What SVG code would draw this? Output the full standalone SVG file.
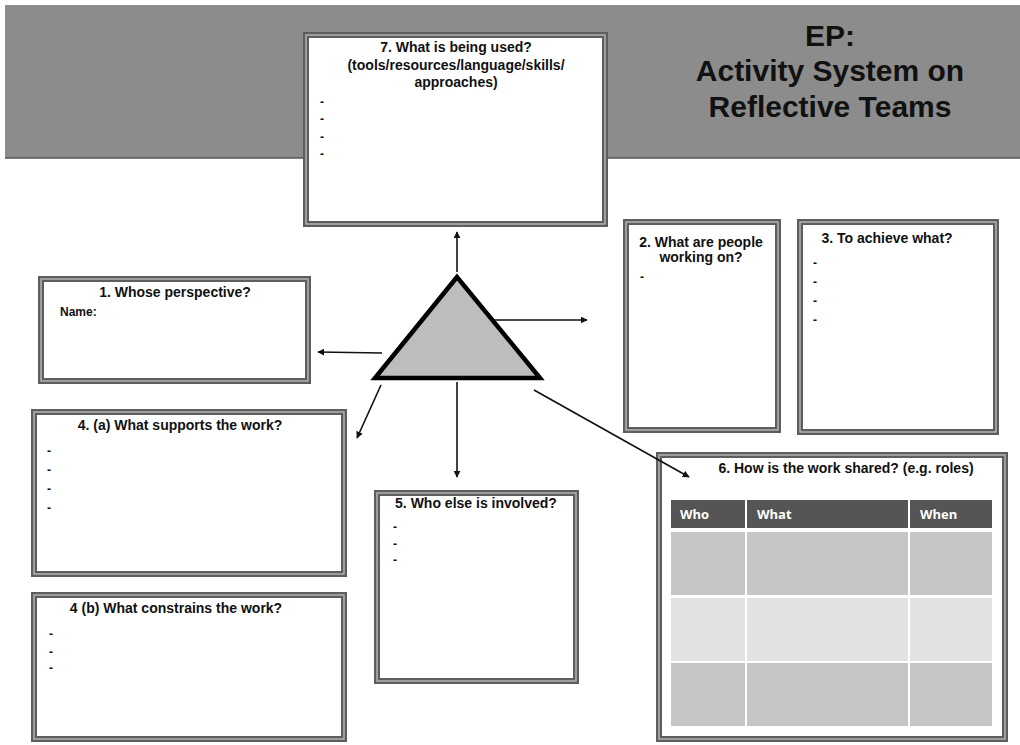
<svg xmlns="http://www.w3.org/2000/svg" width="1020" height="745" viewBox="0 0 1020 745">
  <style>
    .frame { fill: #ffffff; stroke: #5e5e5e; stroke-width: 6; }
    .frame-in { fill: none; stroke: #c8c8c8; stroke-width: 1.2; }
    .ttl { font-family: "Liberation Sans", Arial, sans-serif; font-weight: bold; font-size: 14px; fill: #111; text-anchor: middle; }
    .txt { font-family: "Liberation Sans", Arial, sans-serif; font-weight: bold; font-size: 12px; fill: #111; }
    .big { font-family: "Liberation Sans", Arial, sans-serif; font-weight: bold; font-size: 30px; fill: #111; text-anchor: middle; }
    .th { font-family: "Open Sans", "Liberation Sans", sans-serif; font-weight: bold; font-size: 13px; fill: #ffffff; }
    .conn { stroke: #111; stroke-width: 1.6; fill: none; marker-end: url(#arrow); }
  </style>
  <defs>
    <marker id="arrow" viewBox="0 0 10 10" refX="9" refY="5" markerWidth="7" markerHeight="7" orient="auto" markerUnits="userSpaceOnUse">
      <path d="M0,0 L10,5 L0,10 z" fill="#111"/>
    </marker>
  </defs>

  <rect width="1020" height="745" fill="#ffffff"/>

  <!-- header band -->
  <g id="header">
    <rect x="5" y="5" width="1015" height="153" fill="#8c8c8c"/>
    <line x1="5" y1="158" x2="1020" y2="158" stroke="#555" stroke-width="1.5"/>
    <text class="big" x="830" y="46">EP:</text>
    <text class="big" x="830" y="81">Activity System on</text>
    <text class="big" x="830" y="117">Reflective Teams</text>
  </g>

  <g id="triangle">
    <polygon points="457,277 375,378 540,378" fill="#bdbdbd" stroke="#000" stroke-width="4.5" stroke-linejoin="miter"/>
  </g>

  <g id="node7">
    <rect class="frame" x="306" y="35" width="299" height="189"/>
    <rect class="frame-in" x="306" y="35" width="299" height="189"/>
    <text class="ttl" x="456" y="52" font-size="15">7. What is being used?</text>
    <text class="ttl" x="456" y="70" font-size="15">(tools/resources/language/skills/</text>
    <text class="ttl" x="456" y="87" font-size="15">approaches)</text>
    <text class="txt" x="320" y="106">-</text>
    <text class="txt" x="320" y="123">-</text>
    <text class="txt" x="320" y="141">-</text>
    <text class="txt" x="320" y="158">-</text>
  </g>

  <g id="node1">
    <rect class="frame" x="41" y="279" width="267" height="102"/>
    <rect class="frame-in" x="41" y="279" width="267" height="102"/>
    <text class="ttl" x="175" y="297">1. Whose perspective?</text>
    <text class="txt" x="60" y="316" font-size="13">Name:</text>
  </g>

  <g id="node2">
    <rect class="frame" x="626" y="222" width="152" height="208"/>
    <rect class="frame-in" x="626" y="222" width="152" height="208"/>
    <text class="ttl" x="701" y="247">2. What are people</text>
    <text class="ttl" x="701" y="262">working on?</text>
    <text class="txt" x="640" y="281">-</text>
  </g>

  <g id="node3">
    <rect class="frame" x="800" y="222" width="196" height="210"/>
    <rect class="frame-in" x="800" y="222" width="196" height="210"/>
    <text class="ttl" x="887" y="243">3. To achieve what?</text>
    <text class="txt" x="813" y="267">-</text>
    <text class="txt" x="813" y="286">-</text>
    <text class="txt" x="813" y="305">-</text>
    <text class="txt" x="813" y="324">-</text>
  </g>

  <g id="node4a">
    <rect class="frame" x="34" y="412" width="310" height="162"/>
    <rect class="frame-in" x="34" y="412" width="310" height="162"/>
    <text class="ttl" x="180" y="430">4. (a) What supports the work?</text>
    <text class="txt" x="47" y="455">-</text>
    <text class="txt" x="47" y="474">-</text>
    <text class="txt" x="47" y="493">-</text>
    <text class="txt" x="47" y="512">-</text>
  </g>

  <g id="node4b">
    <rect class="frame" x="34" y="595" width="310" height="144"/>
    <rect class="frame-in" x="34" y="595" width="310" height="144"/>
    <text class="ttl" x="176" y="613">4 (b) What constrains the work?</text>
    <text class="txt" x="49" y="638">-</text>
    <text class="txt" x="49" y="656">-</text>
    <text class="txt" x="49" y="672">-</text>
  </g>

  <g id="node5">
    <rect class="frame" x="377" y="493" width="199" height="188"/>
    <rect class="frame-in" x="377" y="493" width="199" height="188"/>
    <text class="ttl" x="476" y="508">5. Who else is involved?</text>
    <text class="txt" x="393" y="531">-</text>
    <text class="txt" x="393" y="548">-</text>
    <text class="txt" x="393" y="564">-</text>
  </g>

  <g id="node6">
    <rect class="frame" x="659" y="455" width="346" height="284"/>
    <rect class="frame-in" x="659" y="455" width="346" height="284"/>
    <text class="ttl" x="846" y="473">6. How is the work shared? (e.g. roles)</text>
    <!-- roles table -->
    <g id="roles-table">
      <rect x="671" y="500" width="74" height="28" fill="#555"/>
      <rect x="747" y="500" width="161" height="28" fill="#555"/>
      <rect x="910" y="500" width="82" height="28" fill="#555"/>
      <text class="th" x="680" y="519">Who</text>
      <text class="th" x="757" y="519">What</text>
      <text class="th" x="920" y="519">When</text>

      <rect x="671" y="532" width="74" height="63" fill="#c6c6c6"/>
      <rect x="747" y="532" width="161" height="63" fill="#c6c6c6"/>
      <rect x="910" y="532" width="82" height="63" fill="#c6c6c6"/>

      <rect x="671" y="598" width="74" height="63" fill="#e2e2e2"/>
      <rect x="747" y="598" width="161" height="63" fill="#e2e2e2"/>
      <rect x="910" y="598" width="82" height="63" fill="#e2e2e2"/>

      <rect x="671" y="663" width="74" height="63" fill="#c6c6c6"/>
      <rect x="747" y="663" width="161" height="63" fill="#c6c6c6"/>
      <rect x="910" y="663" width="82" height="63" fill="#c6c6c6"/>
    </g>
  </g>

  <!-- connectors from the central triangle, drawn over the boxes -->
  <g id="connectors">
    <line class="conn" x1="457" y1="272" x2="457" y2="232"/>
    <line class="conn" x1="494" y1="320" x2="587" y2="320"/>
    <line class="conn" x1="382" y1="353" x2="318" y2="352"/>
    <line class="conn" x1="381" y1="385" x2="357" y2="438"/>
    <line class="conn" x1="457" y1="382" x2="457" y2="477"/>
    <line class="conn" x1="534" y1="390" x2="689" y2="477"/>
  </g>
</svg>
